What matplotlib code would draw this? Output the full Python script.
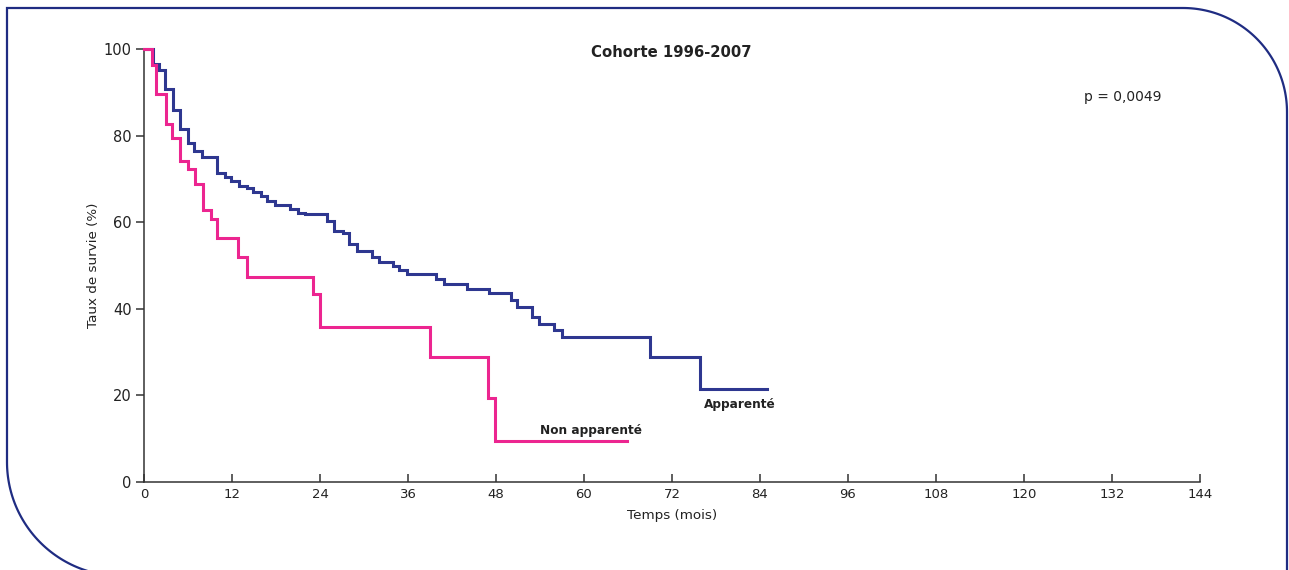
import numpy as np
import matplotlib
matplotlib.use("Agg")
import matplotlib.pyplot as plt
from matplotlib.path import Path
from matplotlib.patches import PathPatch
from matplotlib.transforms import Affine2D

# ---- data ----
apparente_t = [0, 1.2, 2.1, 2.9, 3.9, 4.9, 6.0, 6.8, 7.9, 9.9, 11.0, 11.9, 12.9, 14.0,
               14.9, 15.9, 16.8, 17.9, 19.9, 21.0, 22.0, 24.9, 25.9, 27.1, 27.9, 29.0,
               31.1, 32.0, 34.0, 34.8, 35.9, 39.8, 40.9, 44.0, 47.0, 50.0, 50.8, 52.9,
               53.9, 55.9, 57.0, 69.0, 75.8]
apparente_s = [100, 96.5, 95.2, 90.7, 85.9, 81.5, 78.2, 76.5, 75.0, 71.4, 70.5, 69.4, 68.3,
               67.8, 66.9, 66.1, 65.0, 63.9, 63.0, 62.1, 61.8, 60.3, 58.0, 57.4, 54.9,
               53.4, 51.9, 50.9, 50.0, 49.0, 48.0, 46.8, 45.7, 44.6, 43.6, 42.0, 40.5,
               38.0, 36.5, 35.1, 33.6, 28.8, 21.5]
apparente_end = 85.0

non_app_t = [0, 1.1, 1.7, 3.0, 3.8, 4.9, 6.0, 6.9, 8.0, 9.1, 10.0, 12.8, 14.0, 23.0,
             24.0, 39.0, 46.9, 47.8]
non_app_s = [100, 96.3, 89.5, 82.6, 79.4, 74.1, 72.3, 68.8, 62.9, 60.7, 56.3, 51.9, 47.3,
             43.4, 35.8, 28.9, 19.4, 9.4]
non_app_end = 65.9

x_ticks = [0, 12, 24, 36, 48, 60, 72, 84, 96, 108, 120, 132, 144]
y_ticks = [0, 20, 40, 60, 80, 100]

title = "Cohorte 1996-2007"
p_text = "p = 0,0049"
label_app = "Apparenté"
label_non = "Non apparenté"

BLUE = "#2E3790"
PINK = "#EC2590"
FRAME = "#1F2C82"
AXC = "#333333"

W, H = 1289, 570
fig = plt.figure(figsize=(W / 100, H / 100), dpi=100)
plt.rcParams['font.family'] = ['DejaVu Sans']

# axes placement in pixels
x0, x1 = 144, 1200
y0, y1 = 482, 49
ax = fig.add_axes([x0 / W, 1 - y0 / H, (x1 - x0) / W, (y0 - y1) / H])
ax.set_xlim(0, 144)
ax.set_ylim(0, 100)

for t, s, end, c, z in [(apparente_t, apparente_s, apparente_end, BLUE, 3),
                        (non_app_t, non_app_s, non_app_end, PINK, 4)]:
    ax.step(list(t) + [end], list(s) + [s[-1]], where='post', color=c, lw=2.2,
            clip_on=False, zorder=z, solid_joinstyle='miter')

for sp in ['top', 'right']:
    ax.spines[sp].set_visible(False)
for sp in ['left', 'bottom']:
    ax.spines[sp].set_color(AXC)
    ax.spines[sp].set_linewidth(1.1)

ax.set_xticks(x_ticks)
ax.set_yticks(y_ticks)
ax.tick_params(axis='x', direction='in', length=5.5, width=1.1, color=AXC,
               labelsize=9.5, pad=4, labelcolor="#222222")
ax.tick_params(axis='y', direction='out', length=5.8, width=1.1, color=AXC,
               labelsize=10.5, pad=3, labelcolor="#222222")

ax.set_xlabel("Temps (mois)", fontsize=9.7, color="#222222")
ax.xaxis.set_label_coords(0.5, -0.062)
ax.set_ylabel("Taux de survie (%)", fontsize=9.7, color="#222222")
ax.yaxis.set_label_coords(-0.042, 0.5)

ax.text(71.9, 99.3, title, ha='center', va='center', fontsize=10.7,
        fontweight='bold', color="#222222")
ax.text(133.5, 88.9, p_text, ha='center', va='center', fontsize=10, color="#222222")
ax.text(81.3, 17.8, label_app, ha='center', va='center', fontsize=8.7,
        fontweight='bold', color="#222222")
ax.text(61.0, 11.8, label_non, ha='center', va='center', fontsize=8.7,
        fontweight='bold', color="#222222")

# ---- decorative frame (pixel coordinates, y downward) ----
def arc(cx, cy, r, a0, a1, n=60):
    a = np.radians(np.linspace(a0, a1, n))
    return np.column_stack([cx + r * np.cos(a), cy + r * np.sin(a)])

left, top, right = 7, 8, 1287
r_tr = 104
r_bl = 114
cy_bl = 462
pts = [np.array([[right, H + 10], [right, top + r_tr]])]
pts.append(arc(right - r_tr, top + r_tr, r_tr, 0, -90))
pts.append(np.array([[left, top], [left, cy_bl]]))
pts.append(arc(left + r_bl, cy_bl, r_bl, 180, 90))
verts = np.vstack(pts)
verts[:, 1] = H - verts[:, 1]
path = Path(verts)
tr = Affine2D().scale(1 / W, 1 / H) + fig.transFigure
patch = PathPatch(path, transform=tr, fill=False, edgecolor=FRAME, lw=1.6,
                  joinstyle='miter')
fig.patches.append(patch)

fig.savefig("out.png", dpi=100)
